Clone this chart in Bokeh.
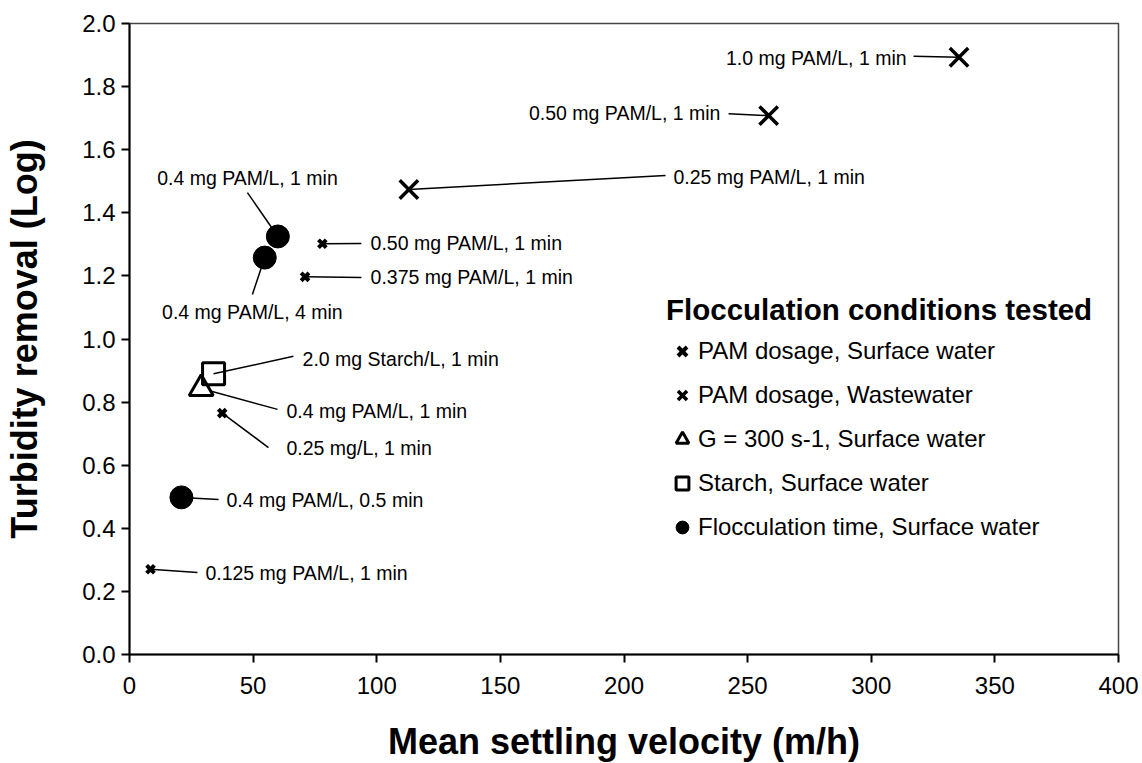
from bokeh.plotting import figure
from bokeh.models import Range1d, Legend, LegendItem, SingleIntervalTicker, NumeralTickFormatter
from bokeh.embed import file_html
from bokeh.resources import INLINE
from bokeh.core.properties import value

FONT = "Liberation Sans"

# ---- data (mean settling velocity m/h, turbidity removal log) ----
pam_sw_v = [8.5, 37.5, 71.0, 78.0]          # PAM dosage, Surface water
pam_sw_r = [0.270, 0.765, 1.197, 1.302]
pam_ww_v = [113.0, 258.5, 335.5]            # PAM dosage, Wastewater
pam_ww_r = [1.474, 1.708, 1.893]
g300_v = [29.0]                             # G = 300 s-1, Surface water
g300_r = [0.843]
starch_v = [34.0]                           # Starch, Surface water
starch_r = [0.890]
ftime_v = [21.0, 54.7, 60.0]                # Flocculation time, Surface water
ftime_r = [0.498, 1.258, 1.325]

legend_labels = ["PAM dosage, Surface water", "PAM dosage, Wastewater",
                 "G = 300 s-1, Surface water", "Starch, Surface water",
                 "Flocculation time, Surface water"]

# ---- point annotations ----
ann_text = ["1.0 mg PAM/L, 1 min", "0.50 mg PAM/L, 1 min", "0.25 mg PAM/L, 1 min",
            "0.4 mg PAM/L, 1 min", "0.50 mg PAM/L, 1 min", "0.375 mg PAM/L, 1 min",
            "0.4 mg PAM/L, 4 min", "2.0 mg Starch/L, 1 min", "0.4 mg PAM/L, 1 min",
            "0.25 mg/L, 1 min", "0.4 mg PAM/L, 0.5 min", "0.125 mg PAM/L, 1 min"]
ann_x = [314.3, 239.0, 220.0, 47.7, 97.5, 97.5, 49.7, 70.0, 63.5, 63.5, 39.2, 30.7]
ann_y = [1.892, 1.715, 1.512, 1.509, 1.303, 1.195, 1.087, 0.938, 0.773, 0.656, 0.491, 0.257]
ann_align = ["right", "right", "left", "center", "left", "left", "center",
             "left", "left", "left", "left", "left"]
lead_x = [317.1, 242.3, 216.8, 47.7, 93.8, 93.8, 49.7, 66.3, 59.9, 56.2, 36.0, 27.5]
lead_y = [1.896, 1.714, 1.518, 1.464, 1.303, 1.195, 1.141, 0.945, 0.777, 0.656, 0.491, 0.260]
targets = [(pam_ww_v[2], pam_ww_r[2]), (pam_ww_v[1], pam_ww_r[1]), (pam_ww_v[0], pam_ww_r[0]),
           (ftime_v[2], ftime_r[2]), (pam_sw_v[3], pam_sw_r[3]), (pam_sw_v[2], pam_sw_r[2]),
           (ftime_v[1], ftime_r[1]), (starch_v[0], starch_r[0]), (g300_v[0], g300_r[0]),
           (pam_sw_v[1], pam_sw_r[1]), (ftime_v[0], ftime_r[0]), (pam_sw_v[0], pam_sw_r[0])]

p = figure(frame_width=989, frame_height=631, output_backend="svg", toolbar_location=None,
           x_range=Range1d(0, 400), y_range=Range1d(0, 2.0),
           min_border_left=129, min_border_right=24, min_border_top=23, min_border_bottom=109)
p.background_fill_color = "white"
p.border_fill_color = "white"
p.outline_line_color = "#444444"
p.outline_line_width = 1.5
p.xgrid.visible = False
p.ygrid.visible = False

p.xaxis.ticker = SingleIntervalTicker(interval=50)
p.yaxis.ticker = SingleIntervalTicker(interval=0.2)
p.yaxis.formatter = NumeralTickFormatter(format="0.0")
for ax in (p.xaxis, p.yaxis):
    ax.axis_line_width = 2
    ax.axis_line_color = "black"
    ax.major_tick_line_width = 2
    ax.major_tick_line_color = "black"
    ax.major_tick_out = 8
    ax.major_tick_in = 0
    ax.minor_tick_out = 0
    ax.minor_tick_in = 0
    ax.major_label_text_font = FONT
    ax.major_label_text_font_size = "24px"
    ax.major_label_text_color = "black"
    ax.axis_label_text_font = FONT
    ax.axis_label_text_font_size = "36px"
    ax.axis_label_text_font_style = "bold"
    ax.axis_label_text_color = "black"
p.xaxis.major_label_standoff = 14
p.yaxis.major_label_standoff = 6
p.xaxis.axis_label = "Mean settling velocity (m/h)"
p.yaxis.axis_label = "Turbidity removal (Log)"
p.xaxis.axis_label_standoff = 24
p.yaxis.axis_label_standoff = 34

# leader lines
p.segment(x0=lead_x, y0=lead_y, x1=[t[0] for t in targets], y1=[t[1] for t in targets],
          line_color="black", line_width=1.5)

# markers
r_sw = p.scatter(pam_sw_v, pam_sw_r, marker="x", size=11, line_width=4, line_color="black")
r_ww = p.scatter(pam_ww_v, pam_ww_r, marker="x", size=26, line_width=3.5, line_color="black")
r_g = p.scatter(g300_v, g300_r, marker="triangle", size=24, line_width=3, line_color="black",
                fill_color="white")
r_st = p.scatter(starch_v, starch_r, marker="square", size=22, line_width=3, line_color="black",
                 fill_alpha=0)
r_ft = p.scatter(ftime_v, ftime_r, marker="circle", size=23, line_color="black", fill_color="black")

# annotation texts
for al in ("left", "right", "center"):
    idx = [i for i, a in enumerate(ann_align) if a == al]
    p.text(x=[ann_x[i] for i in idx], y=[ann_y[i] for i in idx], text=[ann_text[i] for i in idx],
           text_align=al, text_baseline="middle", text_font=value(FONT),
           text_font_size=value("19.5px"), text_color="black")

legend = Legend(items=[LegendItem(label=legend_labels[0], renderers=[r_sw]),
                       LegendItem(label=legend_labels[1], renderers=[r_ww]),
                       LegendItem(label=legend_labels[2], renderers=[r_g]),
                       LegendItem(label=legend_labels[3], renderers=[r_st]),
                       LegendItem(label=legend_labels[4], renderers=[r_ft])],
                location=(537, 111), orientation="vertical",
                title="Flocculation conditions tested", title_text_font=FONT,
                title_text_font_style="bold", title_text_font_size="29.5px",
                title_text_color="black", title_standoff=8,
                label_text_font=FONT, label_text_font_size="24px", label_text_color="black",
                glyph_width=32, glyph_height=32, spacing=12, padding=0, margin=0,
                label_standoff=0, border_line_alpha=0, background_fill_alpha=0)
p.add_layout(legend)

open("out.html", "w").write(file_html(p, INLINE))
